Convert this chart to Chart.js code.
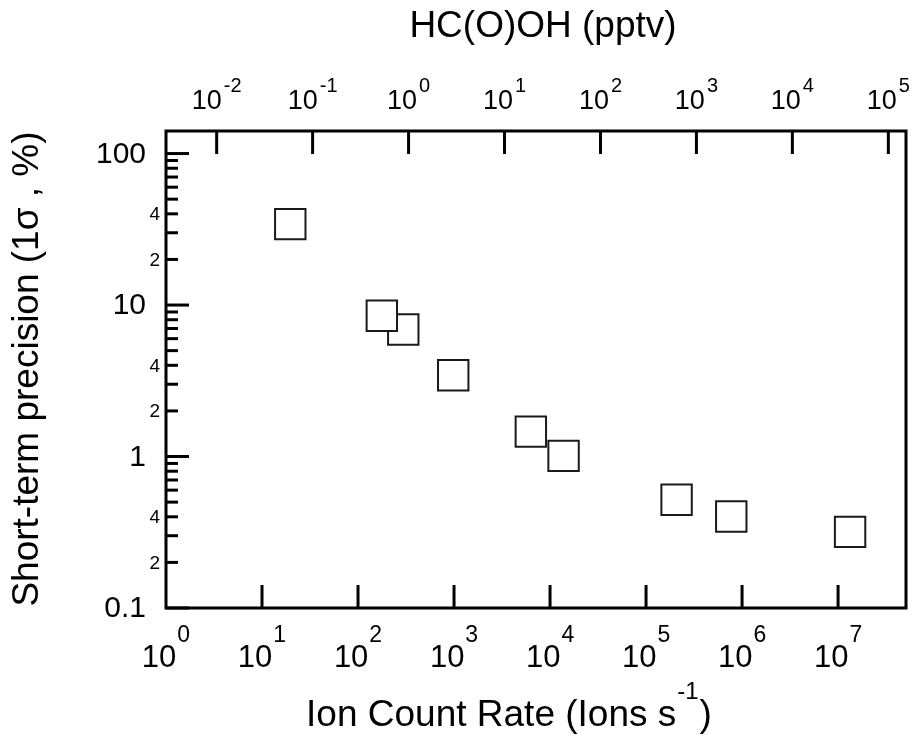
<!DOCTYPE html>
<html>
<head>
<meta charset="utf-8">
<script src="https://cdn.jsdelivr.net/npm/chart.js@4.4.1/dist/chart.umd.min.js"></script>
<style>
  html, body { margin: 0; padding: 0; background: #fff; }
  #wrap { width: 914px; height: 752px; }
</style>
</head>
<body>
<div id="wrap"><canvas id="precChart" width="914" height="752"></canvas></div>
<script>
// ion count rate (ions/s) vs short-term precision (1 sigma, %)
// ordered high -> low so the 177/296 pair overlaps like the original
const countRate = [1.334e7, 7.72e5, 2.08e5, 1.383e4, 6310, 981, 296, 177, 19.7];
const precision = [0.318, 0.402, 0.518, 1.01, 1.46, 3.44, 6.89, 8.49, 34.2];

const bottomTicks = [1, 10, 100, 1e3, 1e4, 1e5, 1e6, 1e7];
const topTicks = [1e-2, 1e-1, 1, 10, 100, 1e3, 1e4, 1e5];
const yMajor = [0.1, 1, 10, 100];
const yMinor = [2, 3, 4, 5, 6, 7, 8, 9];
const yMinorLabels = [2, 4];

const FONT = '"Liberation Sans", Arial, sans-serif';

function line(ctx, x1, y1, x2, y2) {
  ctx.beginPath();
  ctx.moveTo(x1, y1);
  ctx.lineTo(x2, y2);
  ctx.stroke();
}

// "10" with a raised exponent, centred on cx
function powLabel(ctx, cx, base, exp, big, small, raise, gap) {
  ctx.font = big + 'px ' + FONT;
  const w1 = ctx.measureText('10').width;
  ctx.font = small + 'px ' + FONT;
  const e = String(exp);
  const w2 = ctx.measureText(e).width;
  const x0 = cx - (w1 + gap + w2) / 2;
  ctx.textAlign = 'left';
  ctx.textBaseline = 'alphabetic';
  ctx.font = big + 'px ' + FONT;
  ctx.fillText('10', x0, base);
  ctx.font = small + 'px ' + FONT;
  ctx.fillText(e, x0 + w1 + gap, base - raise);
}

const frameAxes = {
  id: 'frameAxes',
  afterDraw(chart) {
    const { ctx, chartArea: a, scales } = chart;
    const x = scales.x, x2 = scales.x2, y = scales.y;
    ctx.save();
    ctx.strokeStyle = '#000';
    ctx.fillStyle = '#000';
    ctx.lineWidth = 3;
    ctx.lineCap = 'square';
    ctx.strokeRect(a.left, a.top, a.right - a.left, a.bottom - a.top);
    ctx.lineCap = 'butt';

    // bottom axis
    bottomTicks.forEach(v => {
      const px = x.getPixelForValue(v);
      if (v > 1) line(ctx, px, a.bottom, px, a.bottom - 23);
      powLabel(ctx, px, 667, Math.round(Math.log10(v)), 31, 23, 25, 1);
    });

    // top axis (HC(O)OH)
    topTicks.forEach(v => {
      const px = x2.getPixelForValue(v);
      line(ctx, px, a.top, px, a.top + 23);
      powLabel(ctx, px, 109, Math.round(Math.log10(v)), 27, 20, 17, 2);
    });

    // left axis
    ctx.textAlign = 'right';
    ctx.textBaseline = 'middle';
    yMajor.forEach(v => {
      const py = y.getPixelForValue(v);
      line(ctx, a.left, py, a.left + 23, py);
      ctx.font = '30px ' + FONT;
      ctx.fillText(String(v), 146, py + 1);
      yMinor.forEach(m => {
        const mv = m * v;
        if (mv > y.max) return;
        const my = y.getPixelForValue(mv);
        line(ctx, a.left, my, a.left + 12, my);
        if (yMinorLabels.includes(m)) {
          ctx.font = '19px ' + FONT;
          ctx.fillText(String(m), 160, my + 1);
        }
      });
    });

    // titles
    ctx.textBaseline = 'alphabetic';
    ctx.textAlign = 'center';
    ctx.font = '37px ' + FONT;
    ctx.fillText('HC(O)OH (pptv)', 543, 37);

    const t1 = 'Ion Count Rate (Ions s', t2 = '-1', t3 = ')';
    ctx.font = '37px ' + FONT;
    const w1 = ctx.measureText(t1).width, w3 = ctx.measureText(t3).width;
    ctx.font = '24px ' + FONT;
    const w2 = ctx.measureText(t2).width;
    let bx = 509 - (w1 + w2 + w3 + 2) / 2;
    ctx.textAlign = 'left';
    ctx.font = '37px ' + FONT;
    ctx.fillText(t1, bx, 726);
    ctx.font = '24px ' + FONT;
    ctx.fillText(t2, bx + w1 + 1, 699);
    ctx.font = '37px ' + FONT;
    ctx.fillText(t3, bx + w1 + w2 + 2, 726);

    ctx.translate(38, 369);
    ctx.rotate(-Math.PI / 2);
    ctx.textAlign = 'center';
    ctx.fillText('Short-term precision (1\u03c3 , %)', 0, 0);
    ctx.restore();
  }
};

new Chart(document.getElementById('precChart'), {
  type: 'scatter',
  data: {
    datasets: [{
      data: countRate.map((v, i) => ({ x: v, y: precision[i] })),
      pointStyle: 'rect',
      pointRadius: 21.5,
      pointHoverRadius: 21.5,
      borderWidth: 2,
      borderColor: '#1a1a1a',
      backgroundColor: '#fff'
    }]
  },
  options: {
    responsive: false,
    animation: false,
    devicePixelRatio: 1,
    layout: { autoPadding: false, padding: { left: 166, right: 8, top: 131, bottom: 144 } },
    plugins: { legend: { display: false }, tooltip: { enabled: false } },
    scales: {
      x: { type: 'logarithmic', position: 'bottom', min: 1, max: 5.1e7, display: false },
      x2: { type: 'logarithmic', position: 'top', min: 0.002965, max: 152800, display: false },
      y: { type: 'logarithmic', min: 0.1, max: 140.9, display: false }
    }
  },
  plugins: [frameAxes]
});
</script>
</body>
</html>
